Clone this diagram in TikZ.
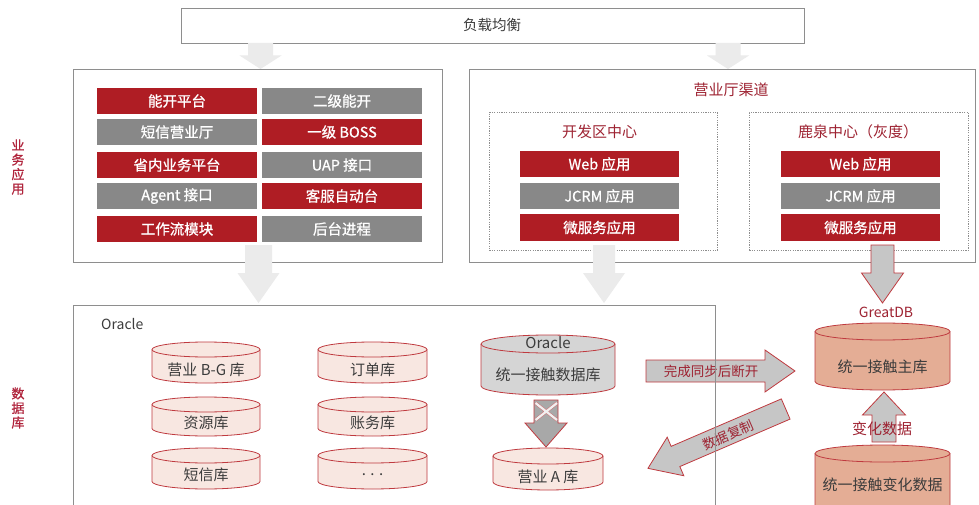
\documentclass[tikz,border=0pt]{standalone}
\usepackage{fontspec}
\setmainfont{Noto Sans CJK SC}
\newfontfamily\btnfont[FakeBold=0.9]{Noto Sans CJK SC}
\definecolor{btnred}{HTML}{AF1D24}
\definecolor{btngray}{HTML}{888888}
\definecolor{boxgray}{HTML}{8E8E8E}
\definecolor{darkred}{HTML}{9E2332}
\definecolor{sidered}{HTML}{B0243C}
\definecolor{cylred}{HTML}{BF3A3F}
\definecolor{cylpink}{HTML}{F8E7E1}
\definecolor{cylsalmon}{HTML}{E4AD95}
\definecolor{cylgray}{HTML}{D5D5D5}
\definecolor{arrgray}{HTML}{C6C6C6}
\definecolor{arrdark}{HTML}{A8A8A8}
\definecolor{arrlight}{HTML}{EBEBEB}
\definecolor{txtgray}{HTML}{3C3C3C}
\newcommand\dbcyl[9]{%
  \draw[cylred, line width=0.8pt, fill=#7] (#2-#5,#3-#6) -- (#2-#5,#4+#6)
    arc[start angle=180,end angle=360,x radius=#5pt,y radius=#6pt] -- (#2+#5,#3-#6)
    arc[start angle=0,end angle=180,x radius=#5pt,y radius=#6pt] -- cycle;
  \draw[cylred, line width=0.8pt] (#2-#5,#3-#6) arc[start angle=180,end angle=360,x radius=#5pt,y radius=#6pt];
  \node[cyltext] (#1) at (#2,#8) {#9};
}
\newcommand\barrow[7]{%
  \begin{scope}[shift={#2},rotate=#3]
    \draw[#1] (0,-#5) -- (#4-#7,-#5) -- (#4-#7,-#6) -- (#4,0) -- (#4-#7,#6) -- (#4-#7,#5) -- (0,#5) -- cycle;
  \end{scope}}
\begin{document}
\begin{tikzpicture}[x=1pt,y=1pt,
  frame/.style={draw=boxgray, line width=0.9pt, inner sep=0pt},
  dotbox/.style={draw=boxgray, line width=0.8pt, dash pattern=on 1.2pt off 1.2pt, inner sep=0pt},
  btn/.style={minimum width=160pt, minimum height=26pt, inner sep=0pt, text=white, font=\btnfont\fontsize{14.5}{15}\selectfont},
  rbtn/.style={btn, fill=btnred},
  gbtn/.style={btn, fill=btngray},
  cyltext/.style={text=txtgray, font=\fontsize{15}{15}\selectfont, inner sep=0pt},
  title/.style={text=darkred, font=\fontsize{15}{15}\selectfont, inner sep=0pt},
  sidelab/.style={text=sidered, align=center, font=\btnfont\fontsize{13}{14.5}\selectfont, inner sep=0pt},
  lightarr/.style={fill=arrlight, draw=none},
  redarr/.style={fill=arrgray, draw=cylred, line width=0.8pt},
  darkarr/.style={fill=arrdark, draw=cylred, line width=0.8pt},
  arrtext/.style={text=darkred, font=\fontsize{13.5}{14}\selectfont, inner sep=0pt}]
\useasboundingbox (0,0) rectangle (979,504);
\fill[white] (0,0) rectangle (979,504);

% side labels
\node[sidelab] (lab1) at (18,337) {业\\务\\应\\用};
\node[sidelab] (lab2) at (18,96) {数\\据\\库};

% top box
\node[frame, minimum width=623pt, minimum height=35pt, anchor=north west] (lb) at (181,496) {};
\node[text=txtgray, font=\fontsize{14.5}{15}\selectfont] (lbt) at (492,478.5) {负载均衡};

% left app box
\node[frame, minimum width=369pt, minimum height=193pt, anchor=north west] (appbox) at (73,435) {};
\node[rbtn] (b11) at (177,403) {能开平台};
\node[gbtn] (b12) at (342,403) {二级能开};
\node[gbtn] (b21) at (177,372) {短信营业厅};
\node[rbtn] (b22) at (342,372) {一级 BOSS};
\node[rbtn] (b31) at (177,339) {省内业务平台};
\node[gbtn] (b32) at (342,339) {UAP 接口};
\node[gbtn] (b41) at (177,308) {Agent 接口};
\node[rbtn] (b42) at (342,308) {客服自动台};
\node[rbtn] (b51) at (177,275) {工作流模块};
\node[gbtn] (b52) at (342,275) {后台进程};

% right channel box
\node[frame, minimum width=506pt, minimum height=193pt, anchor=north west] (chbox) at (469,435) {};
\node[title] (cht) at (731,414) {营业厅渠道};
\node[dotbox, minimum width=228pt, minimum height=138pt, anchor=north west] (dc1) at (489,392) {};
\node[dotbox, minimum width=219pt, minimum height=138pt, anchor=north west] (dc2) at (749,392) {};
\node[title] (dc1t) at (599.5,372) {开发区中心};
\node[title] (dc2t) at (858,372) {鹿泉中心（灰度）};
\begin{scope}[btn/.append style={minimum width=159pt}]
\node[rbtn] (w1) at (599.5,340) {Web 应用};
\node[gbtn] (j1) at (599.5,308) {JCRM 应用};
\node[rbtn] (m1) at (599.5,276.5) {微服务应用};
\node[rbtn] (w2) at (860.5,340) {Web 应用};
\node[gbtn] (j2) at (860.5,308) {JCRM 应用};
\node[rbtn] (m2) at (860.5,276.5) {微服务应用};
\end{scope}

% light arrows
\barrow{lightarr}{(260.5,461)}{-90}{26}{12.5}{21}{13.5}
\barrow{lightarr}{(728,461)}{-90}{26}{12.5}{21}{13.5}
\barrow{lightarr}{(258.5,259)}{-90}{58}{13.5}{21}{30}
\barrow{lightarr}{(604,259)}{-90}{58}{11}{21}{30}
% GreatDB arrow
\barrow{redarr}{(882.5,259)}{-90}{58}{11.5}{21}{30}

% sync / copy arrows
\barrow{redarr}{(646,133)}{0}{149}{11}{21}{30}
\node[arrtext] (synct) at (711,133) {完成同步后断开};
\barrow{redarr}{(785.7,95)}{203.3}{150}{11}{21}{30}
\node[arrtext, rotate=23.3] (copyt) at (728,69) {数据复制};

% bottom box
\node[frame, minimum width=642pt, minimum height=220pt, anchor=north west] (dbbox) at (73,199) {};
\node[text=txtgray, font=\fontsize{14}{15}\selectfont, anchor=west, inner sep=0pt] (orat) at (101,180) {Oracle};

\dbcyl{c1}{206}{162}{121}{54}{7.5}{cylpink}{134}{营业 B-G 库}
\dbcyl{c2}{372.5}{162}{121}{54.5}{7.5}{cylpink}{134}{订单库}
\dbcyl{c3}{206}{107}{68}{54}{7.5}{cylpink}{81}{资源库}
\dbcyl{c4}{372.5}{107}{68}{54.5}{7.5}{cylpink}{81}{账务库}
\dbcyl{c5}{206}{56}{15}{54}{7.5}{cylpink}{29}{短信库}
\dbcyl{c6}{372.5}{56}{15}{54.5}{7.5}{cylpink}{29}{. . .}

\dbcyl{uni}{548}{169}{109}{67}{9}{cylgray}{129}{统一接触数据库}
\node[cyltext] (unio) at (548,161) {Oracle};

% crossed arrow
\barrow{darkarr}{(546,104)}{-90}{47}{12}{21}{24}
\draw[draw=cylred!70, line width=0.5pt, double=white!88!gray, double distance=2.2pt] (535.5,101) -- (557,84) (557,101) -- (535.5,84);

\dbcyl{ya}{548}{56}{14}{55}{8}{cylpink}{27}{营业 A 库}

% GreatDB side
\node[text=darkred, font=\fontsize{14}{15}\selectfont, inner sep=0pt] (gdb) at (886,192) {GreatDB};
\dbcyl{main}{882.5}{181}{114}{67.5}{8.5}{cylsalmon}{137}{统一接触主库}
\dbcyl{chg}{882.5}{59}{-40}{67.5}{8.5}{cylsalmon}{19}{统一接触变化数据}
\barrow{redarr}{(884,62)}{90}{50}{12}{21.5}{23}
\node[text=darkred, font=\fontsize{15}{15}\selectfont, inner sep=0pt] (chgt) at (882,75) {变化数据};
\end{tikzpicture}
\end{document}
